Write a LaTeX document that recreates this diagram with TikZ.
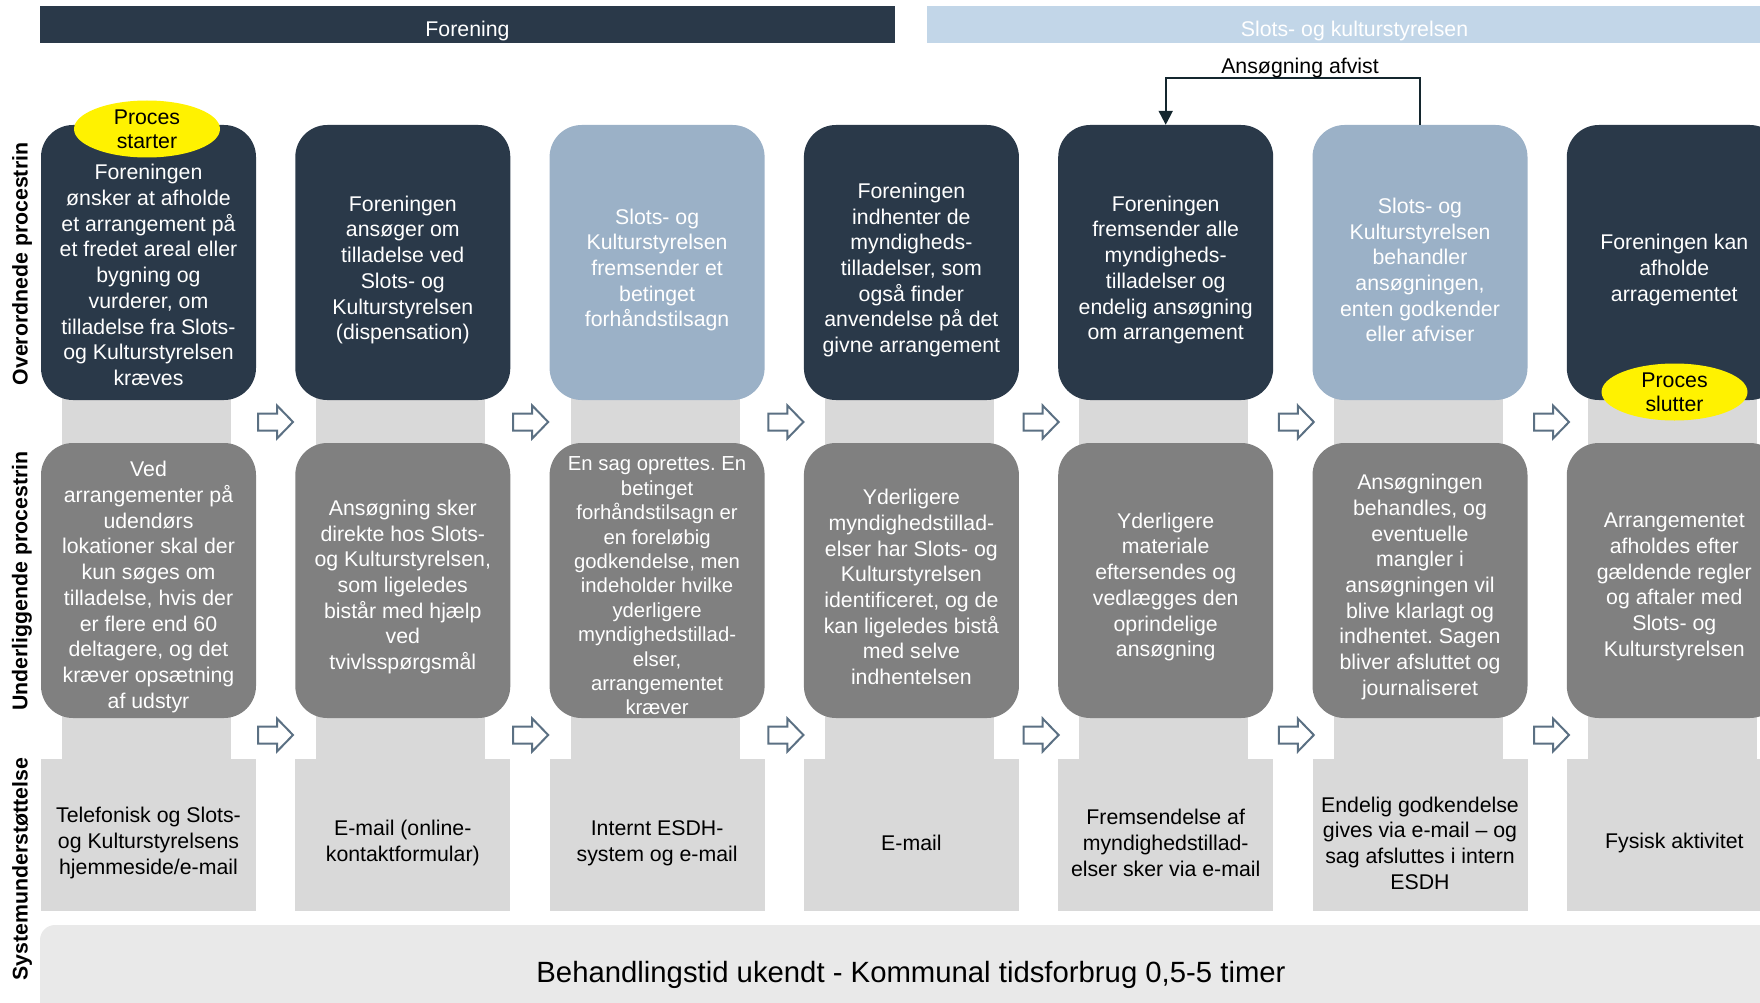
\documentclass[tikz,border=0pt]{standalone}
\usepackage{fontspec}
\setmainfont{Liberation Sans}
\usetikzlibrary{shapes.geometric,arrows.meta}
\definecolor{navy}{HTML}{2A3949}
\definecolor{lightbox}{HTML}{9BB1C7}
\definecolor{hdrblue}{HTML}{C2D6E8}
\definecolor{midgray}{HTML}{808080}
\definecolor{stripgray}{HTML}{D9D9D9}
\definecolor{barback}{HTML}{E9E9E9}
\definecolor{arrowc}{HTML}{5B7083}
\definecolor{fbc}{HTML}{14262E}
\frenchspacing
\begin{document}
\begin{tikzpicture}[x=1pt,y=-1pt,
  box/.style={minimum width=215pt, minimum height=275pt, inner sep=0pt, rounded corners=32pt},
  topbox/.style={box, fill=navy},
  bluebox/.style={box, fill=lightbox},
  midbox/.style={box, fill=midgray},
  sysbox/.style={minimum width=215pt, minimum height=152pt, inner sep=0pt, fill=stripgray},
  wtxt/.style={text=white, align=center, font=\fontsize{21.3}{25.7}\selectfont, inner sep=0pt},
  btxt/.style={wtxt, text=black},
  smalltxt/.style={wtxt, font=\fontsize{20.3}{24.4}\selectfont},
  sidelbl/.style={rotate=90, font=\fontsize{21.3}{25.6}\selectfont\bfseries, inner sep=0pt},
  hdr/.style={minimum width=855pt, minimum height=37pt, inner sep=0pt},
  blockarr/.style={draw=arrowc, fill=white, line width=2pt, line join=miter},
  procell/.style={ellipse, fill=yellow, minimum width=146pt, minimum height=57pt, inner sep=0pt, align=center, font=\fontsize{21.3}{24}\selectfont},
  fbline/.style={draw=fbc, line width=2pt, -{Triangle[width=14pt,length=14pt]}}
]
\frenchspacing
\path[use as bounding box] (0,0) rectangle (1760,1003);
\clip (0,0) rectangle (1760,1003);

% header bars
\node[hdr, fill=navy] (h1) at (467.5,24.5) {};
\node[wtxt] (h1t) at (467.5,30.5) {Forening};
\node[hdr, fill=hdrblue] (h2) at (1354.5,24.5) {};
\node[wtxt] (h2t) at (1354.5,30.5) {Slots- og kulturstyrelsen};

% side labels
\node[sidelbl] (s1) at (22,264) {Overordnede procestrin};
\node[sidelbl] (s2) at (22,581) {Underliggende procestrin};
\node[sidelbl] (s3) at (22,869) {Systemunderstøttelse};

% grey strips
\foreach \l in {41,295.3,549.6,803.9,1058.2,1312.5,1566.8}
  \fill[stripgray] (\l+21,300) rectangle (\l+190,770);

% system boxes
\node[sysbox] (y1) at (148.5,835) {};
\node[sysbox] (y2) at (402.8,835) {};
\node[sysbox] (y3) at (657.1,835) {};
\node[sysbox] (y4) at (911.4,835) {};
\node[sysbox] (y5) at (1165.7,835) {};
\node[sysbox] (y6) at (1420,835) {};
\node[sysbox] (y7) at (1674.3,835) {};

% top boxes
\node[topbox] (t1) at (148.5,262.5) {};
\node[topbox] (t2) at (402.8,262.5) {};
\node[bluebox] (t3) at (657.1,262.5) {};
\node[topbox] (t4) at (911.4,262.5) {};
\node[topbox] (t5) at (1165.7,262.5) {};
\node[bluebox] (t6) at (1420,262.5) {};
\node[topbox] (t7) at (1674.3,262.5) {};

% middle boxes
\node[midbox] (m1) at (148.5,580.5) {};
\node[midbox] (m2) at (402.8,580.5) {};
\node[midbox] (m3) at (657.1,580.5) {};
\node[midbox] (m4) at (911.4,580.5) {};
\node[midbox] (m5) at (1165.7,580.5) {};
\node[midbox] (m6) at (1420,580.5) {};
\node[midbox] (m7) at (1674.3,580.5) {};

% top texts
\node[wtxt] (t1t) at (148.5,275) {Foreningen\\ønsker at afholde\\et arrangement på\\et fredet areal eller\\bygning og\\vurderer, om\\tilladelse fra Slots-\\og Kulturstyrelsen\\kræves};
\node[wtxt] (t2t) at (402.8,270) {Foreningen\\ansøger om\\tilladelse ved\\Slots- og\\Kulturstyrelsen\\(dispensation)};
\node[wtxt] (t3t) at (657.1,270) {Slots- og\\Kulturstyrelsen\\fremsender et\\betinget\\forhåndstilsagn};
\node[wtxt] (t4t) at (911.4,270) {Foreningen\\indhenter de\\myndigheds-\\tilladelser, som\\også finder\\anvendelse på det\\givne arrangement};
\node[wtxt] (t5t) at (1165.7,270) {Foreningen\\fremsender alle\\myndigheds-\\tilladelser og\\endelig ansøgning\\om arrangement};
\node[wtxt] (t6t) at (1420,270) {Slots- og\\Kulturstyrelsen\\behandler\\ansøgningen,\\enten godkender\\eller afviser};
\node[wtxt] (t7t) at (1674.3,270) {Foreningen kan\\afholde\\arragementet};

% middle texts
\node[wtxt] (m1t) at (148.5,587) {Ved\\arrangementer på\\udendørs\\lokationer skal der\\kun søges om\\tilladelse, hvis der\\er flere end 60\\deltagere, og det\\kræver opsætning\\af udstyr};
\node[wtxt] (m2t) at (402.8,587) {Ansøgning sker\\direkte hos Slots-\\og Kulturstyrelsen,\\som ligeledes\\bistår med hjælp\\ved\\tvivlsspørgsmål};
\node[smalltxt] (m3t) at (657.1,586) {En sag oprettes. En\\betinget\\forhåndstilsagn er\\en foreløbig\\godkendelse, men\\indeholder hvilke\\yderligere\\myndighedstillad-\\elser,\\arrangementet\\kræver};
\node[wtxt] (m4t) at (911.4,587) {Yderligere\\myndighedstillad-\\elser har Slots- og\\Kulturstyrelsen\\identificeret, og de\\kan ligeledes bistå\\med selve\\indhentelsen};
\node[wtxt] (m5t) at (1165.7,587) {Yderligere\\materiale\\eftersendes og\\vedlægges den\\oprindelige\\ansøgning};
\node[wtxt] (m6t) at (1420,587) {Ansøgningen\\behandles, og\\eventuelle\\mangler i\\ansøgningen vil\\blive klarlagt og\\indhentet. Sagen\\bliver afsluttet og\\journaliseret};
\node[wtxt] (m7t) at (1674.3,587) {Arrangementet\\afholdes efter\\gældende regler\\og aftaler med\\Slots- og\\Kulturstyrelsen};

% system texts
\node[btxt] (y1t) at (148.5,843) {Telefonisk og Slots-\\og Kulturstyrelsens\\hjemmeside/e-mail};
\node[btxt] (y2t) at (402.8,843) {E-mail (online-\\kontaktformular)};
\node[btxt] (y3t) at (657.1,843) {Internt ESDH-\\system og e-mail};
\node[btxt] (y4t) at (911.4,843) {E-mail};
\node[btxt] (y5t) at (1165.7,843) {Fremsendelse af\\myndighedstillad-\\elser sker via e-mail};
\node[btxt] (y6t) at (1420,843) {Endelig godkendelse\\gives via e-mail – og\\sag afsluttes i intern\\ESDH};
\node[btxt] (y7t) at (1674.3,843) {Fysisk aktivitet};

% block arrows
\foreach \x [count=\i] in {275.5,530.7,785.9,1041.1,1296.3,1551.5}{
  \foreach \y/\n in {422/a,735/b}{
    \coordinate (\n\i) at (\x,\y);
    \draw[blockarr, shift={(\n\i)}] (-17.5,-8.5) -- (1.5,-8.5) -- (1.5,-16.5) -- (17.5,0) -- (1.5,16.5) -- (1.5,8.5) -- (-17.5,8.5) -- cycle;
  }
}

% start / end ellipses
\node[procell] (ps) at (147,129) {Proces\\starter};
\node[procell] (pe) at (1674.5,392) {Proces\\slutter};

% feedback
\draw[fbline] (t6.north) -- ++(0,-47) -| (t5.north);
\node[btxt] (afv) at (1300,68) {Ansøgning afvist};

% bottom bar
\node[fill=barback, rounded corners=15pt, minimum width=1742pt, minimum height=100pt, inner sep=0pt, font=\fontsize{29.3}{34}\selectfont] (bb) at (911,975) {Behandlingstid ukendt - Kommunal tidsforbrug 0,5-5 timer};
\end{tikzpicture}
\end{document}
